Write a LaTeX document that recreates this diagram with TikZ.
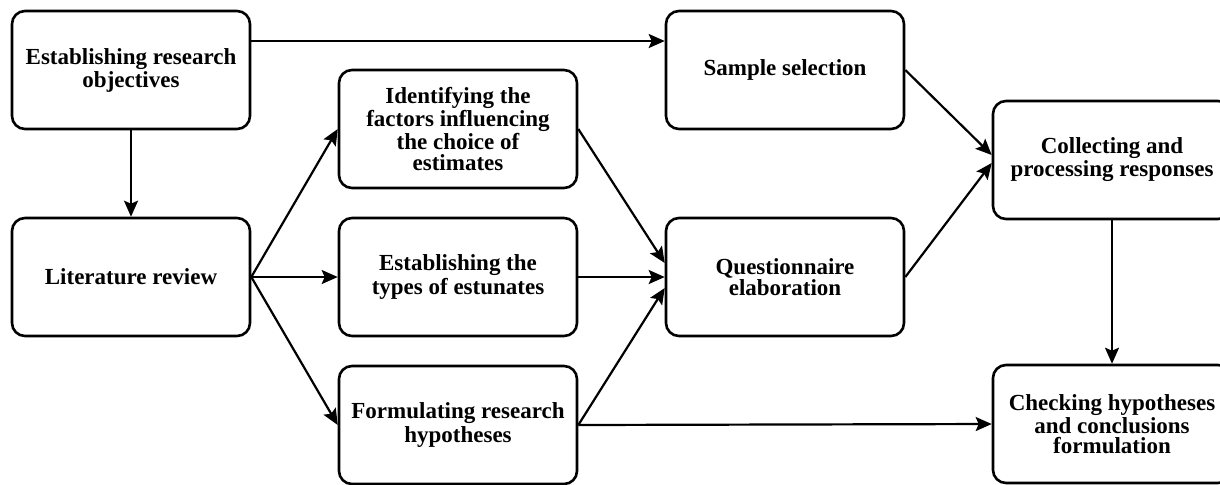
\documentclass[tikz,border=0pt]{standalone}
\usepackage{fontspec}
\setmainfont{Liberation Serif}
\usepackage{tikz}
\usetikzlibrary{arrows.meta}

\tikzset{
  stepbox/.style={draw,black,rounded corners=6.5pt,line width=1.3pt,minimum width=119pt,minimum height=59pt,
    align=center,inner sep=2pt,font=\fontsize{11.5}{10.3}\selectfont\bfseries},
  arr/.style={line width=1.1pt,-{Stealth[length=8pt,width=7pt,inset=1.5pt]}}
}

\begin{document}
\begin{tikzpicture}[x=0.5pt,y=-0.5pt]
\useasboundingbox (0,0) rectangle (1220,484);
\clip (0,0) rectangle (1220,484);

\node[stepbox](obj) at (131,70){Establishing research\\objectives};
\node[stepbox](lit) at (131,277){Literature review};

\node[stepbox](fact) at (458,129){Identifying the\\factors influencing\\the choice of\\estimates};
\node[stepbox](types) at (458,277){Establishing the\\types of estunates};
\node[stepbox](hyp) at (458,425){Formulating research\\hypotheses};

\node[stepbox](sample) at (785,70){Sample selection};
\node[stepbox](quest) at (785,277){Questionnaire\\elaboration};

\node[stepbox](coll) at (1112,160){Collecting and\\processing responses};
\node[stepbox](check) at (1112,424){Checking hypotheses\\and conclusions\\formulation};

\draw[arr]([yshift=14.5pt]obj.east) -- ([yshift=14.5pt]sample.west);
\draw[arr](obj) -- (lit);

\draw[arr](lit.east) -- (fact.west);
\draw[arr](lit.east) -- (types.west);
\draw[arr](lit.east) -- (hyp.west);

\draw[arr](fact.east) -- ([yshift=7pt]quest.west);
\draw[arr](types.east) -- (quest.west);
\draw[arr](hyp.east) -- ([yshift=-5.5pt]quest.west);
\draw[arr](hyp.east) -- (check.west);

\draw[arr](sample.east) -- ([yshift=2.5pt]coll.west);
\draw[arr](quest.east) -- ([yshift=-1.5pt]coll.west);
\draw[arr](coll) -- (check);

\end{tikzpicture}
\end{document}
